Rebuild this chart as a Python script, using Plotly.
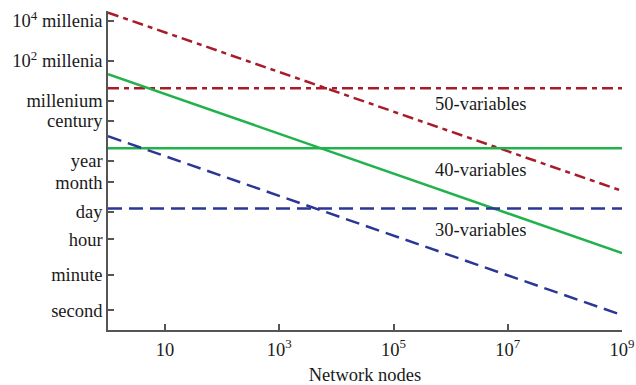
import plotly.graph_objects as go

# Network size (nodes)
nodes = [1, 1e9]

# Time in seconds
red_slant = [8.3e14, 9.5e5]
red_flat = [1.32e11, 1.32e11]
green_slant = [6.8e11, 7.2e2]
green_flat = [1.29e8, 1.29e8]
blue_slant = [5.2e8, 0.56]
blue_flat = [1.23e5, 1.23e5]

# Y tick positions (seconds) and labels
y_tick_vals = [1, 60, 3600, 86400, 2.63e6, 3.156e7, 3.156e9, 3.156e10, 3.156e12, 3.156e14]
y_tick_text = ["second", "minute", "hour", "day", "month", "year", "century",
               "millenium", "10<sup>2</sup> millenia", "10<sup>4</sup> millenia"]

x_tick_vals = [10, 1e3, 1e5, 1e7, 1e9]
x_tick_text = ["10", "10<sup>3</sup>", "10<sup>5</sup>", "10<sup>7</sup>", "10<sup>9</sup>"]

labels = ["50-variables", "40-variables", "30-variables"]
label_y = [10.33, 7.02, 4.0]  # log10 seconds

RED = "#a81c2a"
GREEN = "#22b24c"
BLUE = "#2b3795"
FONT = "Liberation Serif"
FS = 18.5

fig = go.Figure()
series = [
    (red_slant, RED, "11px,5px,5px,5px"),
    (red_flat, RED, "11px,5px,5px,5px"),
    (green_slant, GREEN, "solid"),
    (green_flat, GREEN, "solid"),
    (blue_slant, BLUE, "14px,7px"),
    (blue_flat, BLUE, "14px,7px"),
]
for ys, col, dash in series:
    fig.add_trace(go.Scatter(x=nodes, y=ys, mode="lines",
                             line=dict(color=col, width=2.5, dash=dash),
                             showlegend=False, hoverinfo="skip", cliponaxis=False))

for txt, ly in zip(labels, label_y):
    fig.add_annotation(x=6.52, y=ly, xref="x", yref="y", text=txt,
                       showarrow=False, font=dict(family=FONT, size=FS, color="#1a1a1a"))

axis_common = dict(showline=True, linecolor="#555", linewidth=1.5, ticks="inside",
                   ticklen=6, tickcolor="#555", tickwidth=1.5, showgrid=False,
                   zeroline=False, mirror=False, automargin=False,
                   ticklabeloverflow="allow",
                   tickfont=dict(family=FONT, size=FS, color="#1a1a1a"))

fig.update_xaxes(type="log", range=[0, 9], tickvals=x_tick_vals, ticktext=x_tick_text,
                 ticklabelstandoff=2,
                 title=dict(text="Network nodes", font=dict(family=FONT, size=FS, color="#1a1a1a"),
                            standoff=10),
                 **axis_common)
fig.update_yaxes(type="log", range=[-1, 15], tickvals=y_tick_vals, ticktext=y_tick_text,
                 ticklabelstandoff=0,
                 **axis_common)

fig.update_layout(width=636, height=385, plot_bgcolor="white", paper_bgcolor="white",
                  margin=dict(l=108, r=14, t=11, b=55),
                  font=dict(family=FONT, size=FS, color="#1a1a1a"))

fig.write_html("out.html", config={"displayModeBar": False},
               post_script="document.body.style.margin='0';document.body.style.overflow='hidden';")
